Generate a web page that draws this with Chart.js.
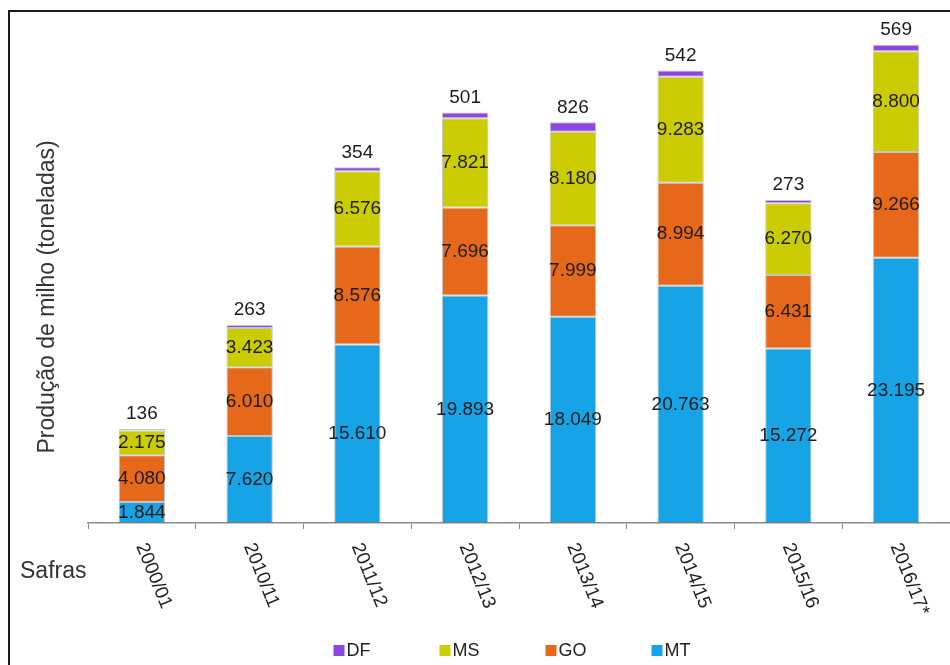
<!DOCTYPE html>
<html>
<head>
<meta charset="utf-8">
<script src="https://cdn.jsdelivr.net/npm/chart.js@4/dist/chart.umd.min.js"></script>
<style>
  html, body { margin: 0; padding: 0; background: #fff; overflow: hidden; }
  #wrap { position: relative; width: 950px; height: 665px; }
  #milhoChart { display: block; }
  #frame { position: absolute; left: 8px; top: 10px; width: 1000px; height: 700px;
           border: 2px solid #1b1b1b; pointer-events: none; }
</style>
</head>
<body>
<div id="wrap">
  <canvas id="milhoChart" width="950" height="665"></canvas>
  <div id="frame"></div>
</div>
<script>
const safras = ["2000/01", "2010/11", "2011/12", "2012/13", "2013/14", "2014/15", "2015/16", "2016/17*"];
const mt = [1844, 7620, 15610, 19893, 18049, 20763, 15272, 23195];
const go = [4080, 6010, 8576, 7696, 7999, 8994, 6431, 9266];
const ms = [2175, 3423, 6576, 7821, 8180, 9283, 6270, 8800];
const df = [136, 263, 354, 501, 826, 542, 273, 569];

const FONT = "'Liberation Sans', Arial, sans-serif";

function fmt(v) {
  return String(v).replace(/\B(?=(\d{3})+(?!\d))/g, ".");
}

// valores dentro de cada segmento; DF vai por cima da barra
const rotulos = {
  id: "rotulos",
  afterDatasetsDraw(chart) {
    const ctx = chart.ctx;
    ctx.save();
    ctx.font = "19px " + FONT;
    ctx.fillStyle = "#1c1c1c";
    ctx.textAlign = "center";
    ctx.textBaseline = "middle";
    chart.data.datasets.forEach((ds, i) => {
      chart.getDatasetMeta(i).data.forEach((bar, j) => {
        const v = ds.data[j];
        if (ds.label === "DF") {
          ctx.fillText(fmt(v), bar.x, bar.y - 15);
        } else {
          ctx.fillText(fmt(v), bar.x, (bar.y + bar.base) / 2);
        }
      });
    });
    ctx.restore();
  }
};

// eixos, safras inclinadas e legenda
const textos = {
  id: "textos",
  afterDraw(chart) {
    const ctx = chart.ctx;
    const xs = chart.scales.x;
    const area = chart.chartArea;
    ctx.save();
    ctx.fillStyle = "#222";

    ctx.font = "19px " + FONT;
    ctx.textAlign = "left";
    ctx.textBaseline = "middle";
    chart.data.labels.forEach((lab, i) => {
      const x = xs.getPixelForTick(i);
      ctx.save();
      ctx.translate(x - 1, xs.top + 21);
      ctx.rotate(68 * Math.PI / 180);
      ctx.fillText(lab, 0, 0);
      ctx.restore();
    });

    ctx.font = "23px " + FONT;
    ctx.fillStyle = "#333";
    ctx.textAlign = "left";
    ctx.fillText("Safras", 20, 572);

    ctx.save();
    ctx.translate(48, 297);
    ctx.rotate(-Math.PI / 2);
    ctx.textAlign = "center";
    ctx.fillText("Produção de milho (toneladas)", 0, 0);
    ctx.restore();

    // legenda na ordem DF, MS, GO, MT
    const itens = chart.data.datasets.slice().reverse();
    const passo = 106;
    ctx.font = "18px " + FONT;
    const ultimo = 13 + ctx.measureText(itens[itens.length - 1].label).width;
    const total = passo * (itens.length - 1) + ultimo;
    let lx = (area.left + area.right) / 2 - total / 2 - 7;
    const ly = 650;
    itens.forEach(ds => {
      ctx.fillStyle = ds.backgroundColor;
      ctx.fillRect(lx, ly - 5, 11, 11);
      ctx.fillStyle = "#222";
      ctx.textAlign = "left";
      ctx.fillText(ds.label, lx + 13, ly + 1);
      lx += passo;
    });
    ctx.restore();
  }
};

new Chart(document.getElementById("milhoChart"), {
  type: "bar",
  data: {
    labels: safras,
    datasets: [
      { label: "MT", data: mt, backgroundColor: "#17a4e6" },
      { label: "GO", data: go, backgroundColor: "#e6691b" },
      { label: "MS", data: ms, backgroundColor: "#cccc05" },
      { label: "DF", data: df, backgroundColor: "#8c46e4" }
    ]
  },
  options: {
    responsive: false,
    animation: false,
    layout: { padding: { left: 88, right: 0, top: 20, bottom: 136 } },
    plugins: { legend: { display: false }, tooltip: { enabled: false } },
    datasets: {
      bar: {
        barPercentage: 0.43,
        categoryPercentage: 1,
        borderWidth: 1,
        borderColor: "rgba(90,90,90,0.35)",
        borderSkipped: false
      }
    },
    scales: {
      x: {
        stacked: true,
        grid: { display: true, drawOnChartArea: false, drawTicks: true, tickLength: 6, color: "#8c8c8c", offset: true },
        border: { display: true, color: "#8c8c8c", width: 1.5 },
        ticks: { display: false }
      },
      y: { stacked: true, display: false, min: 0, max: 44000 }
    }
  },
  plugins: [rotulos, textos]
});
</script>
</body>
</html>
